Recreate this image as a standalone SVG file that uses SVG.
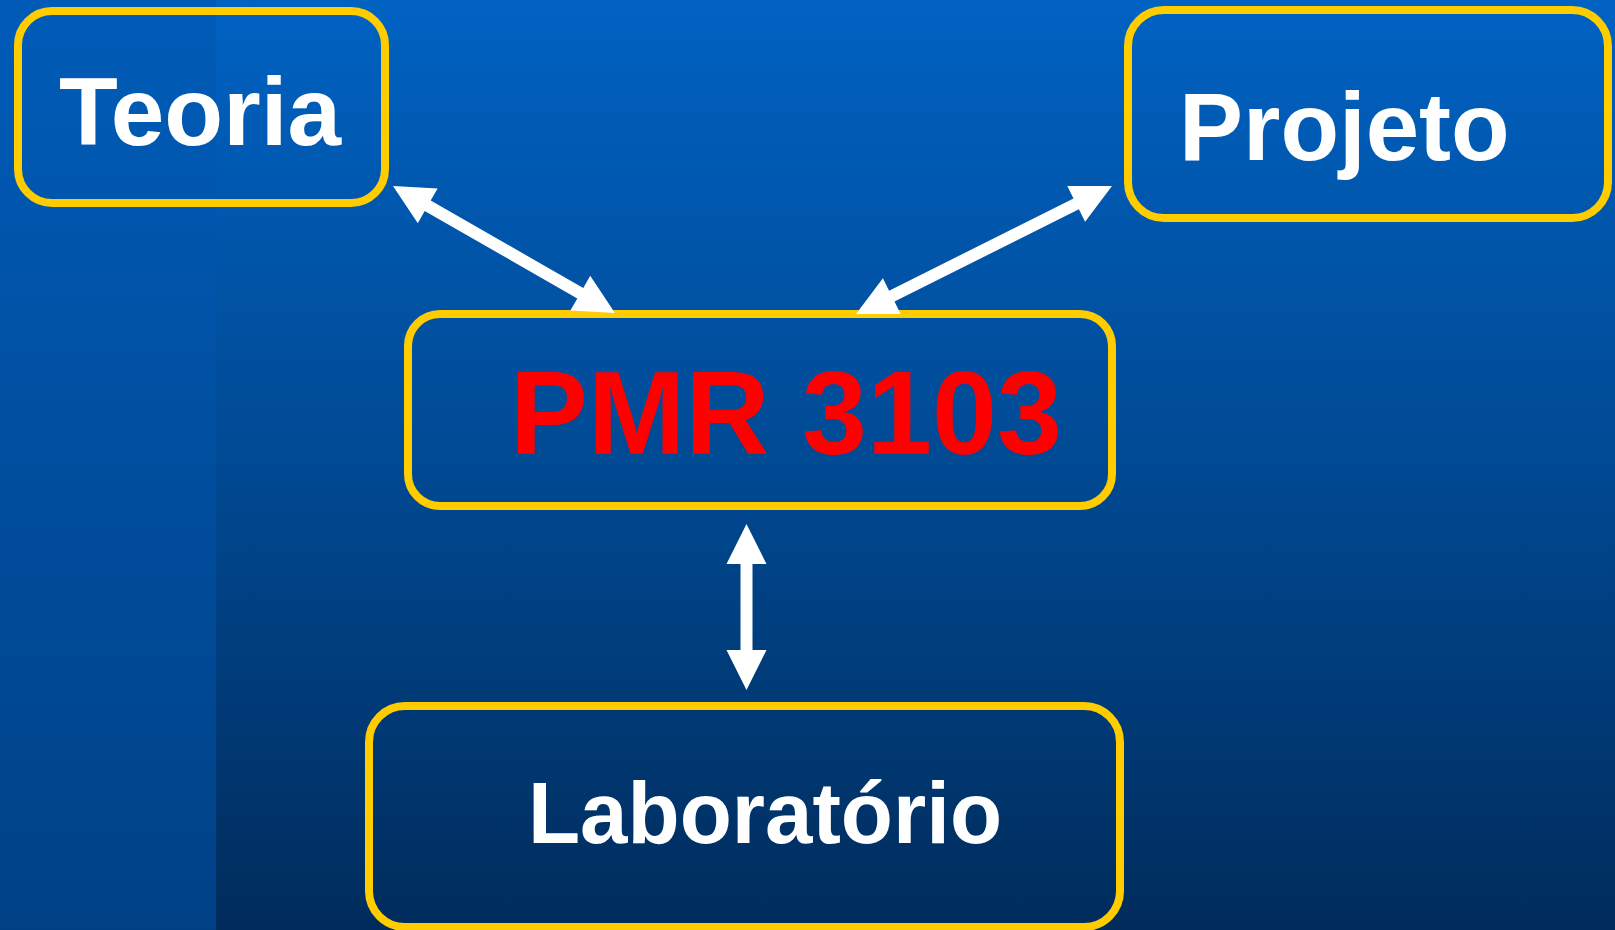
<svg xmlns="http://www.w3.org/2000/svg" width="1615" height="930" viewBox="0 0 1615 930">
  <defs>
    <linearGradient id="bgMain" x1="0" y1="0" x2="0" y2="1">
      <stop offset="0" stop-color="#0062C2"/>
      <stop offset="0.45" stop-color="#004C98"/>
      <stop offset="1" stop-color="#002C5C"/>
    </linearGradient>
    <linearGradient id="bgLeft" x1="0" y1="0" x2="0" y2="1">
      <stop offset="0" stop-color="#005CB8"/>
      <stop offset="1" stop-color="#004186"/>
    </linearGradient>
    <style>
      .box { fill: none; stroke: #FFCC00; stroke-width: 8; }
      .lbl { font-family: "Liberation Sans", Arial, sans-serif; font-weight: bold; fill: #FFFFFF; }
      .main { fill: #FF0000; }
      .arrow { fill: #FFFFFF; stroke: none; }
    </style>
  </defs>

  <rect x="0" y="0" width="1615" height="930" fill="url(#bgMain)"/>
  <rect x="0" y="0" width="216" height="930" fill="url(#bgLeft)"/>

  <g id="node-teoria">
    <rect class="box" x="18" y="11" width="367" height="192" rx="34" ry="34"/>
    <text class="lbl" x="59" y="145" font-size="97" textLength="282" lengthAdjust="spacingAndGlyphs">Teoria</text>
  </g>

  <g id="node-projeto">
    <rect class="box" x="1128" y="10" width="480" height="208" rx="36" ry="36"/>
    <text class="lbl" x="1179" y="160" font-size="96">Projeto</text>
  </g>

  <g id="node-pmr">
    <rect class="box" x="408" y="314" width="704" height="192" rx="32" ry="32"/>
    <text class="lbl main" x="510" y="454" font-size="119" textLength="552" lengthAdjust="spacingAndGlyphs">PMR 3103</text>
  </g>

  <g id="node-laboratorio">
    <rect class="box" x="369" y="706" width="751" height="221" rx="36" ry="36"/>
    <text class="lbl" x="528" y="843" font-size="88" textLength="474" lengthAdjust="spacingAndGlyphs">Laboratório</text>
  </g>

  <g id="connectors">
    <polygon class="arrow" points="393,186 417.8,223.2 424.7,211.0 577.3,298.4 570.4,310.6 615,313 590.2,275.8 583.3,288.0 430.7,200.6 437.6,188.4"/>
    <polygon class="arrow" points="856,314 900.7,314.0 894.5,301.5 1078.9,209.3 1085.1,221.8 1112,186 1067.3,186.0 1073.5,198.5 889.1,290.7 882.9,278.2"/>
    <polygon class="arrow" points="746.5,524 766.5,564 752.5,564 752.5,650 766.5,650 746.5,690 726.5,650 740.5,650 740.5,564 726.5,564"/>
  </g>
</svg>
